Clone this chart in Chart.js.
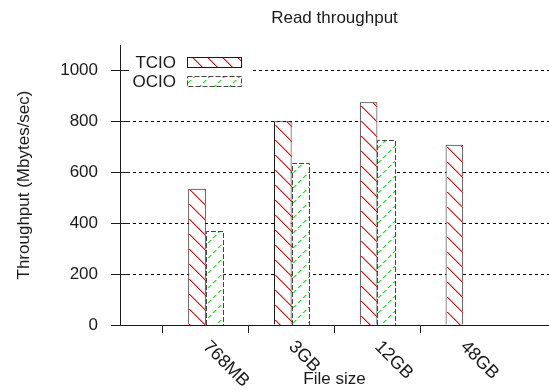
<!DOCTYPE html>
<html>
<head>
<meta charset="utf-8">
<script src="https://cdn.jsdelivr.net/npm/chart.js@4/dist/chart.umd.min.js"></script>
<style>
  body { margin: 0; background: #fff; }
  #wrap { width: 549px; height: 392px; }
</style>
</head>
<body>
<div id="wrap"><canvas id="myChart" width="549" height="392"></canvas></div>
<script>
const categories = ['768MB', '3GB', '12GB', '48GB'];
const tcioValues = [535, 800, 875, 708];
const ocioValues = [370, 636, 725, null];
const seriesNames = ['TCIO', 'OCIO'];
const yTickStep = 200;
const yMax = 1100;
const chartTitle = 'Read throughput';
const xTitle = 'File size';
const yTitle = 'Throughput (Mbytes/sec)';

const FONT = 'Liberation Sans, Arial, Helvetica, sans-serif';
const INK = '#1a1a1a';

// blank slots at both ends so the category ticks land where gnuplot put them
const labels = [''].concat(categories, ['']);
const pad = arr => [null].concat(arr, [null]);

// hatch styles per series: line colour, soft edge colour, direction, dashed?, outline
const styles = [
  { color: '#ff0000', soft: '#ff9090', dir: 'back', dashed: false, edge: INK, edgeDash: [] },
  { color: '#00ee00', soft: '#90f590', dir: 'fwd', dashed: true, edge: '#444', edgeDash: [5, 2] }
];

// aliased pixel hatching, like the gnuplot png terminal
function drawHatch(c, l, t, r, b, st) {
  const step = 15;
  c.save();
  for (let y = t; y < b; y++) {
    if (st.dashed && (y % 5) >= 3) continue;
    const base = st.dir === 'back' ? ((y % step) + step) % step : ((step - (y % step)) % step);
    for (let x = l + ((base - l) % step + step) % step; x < r; x += step) {
      c.fillStyle = st.color;
      c.fillRect(x, y, 1, 1);
      if (x + 1 < r) {
        c.fillStyle = st.soft;
        c.fillRect(x + 1, y, 1, 1);
      }
    }
  }
  c.restore();
}

const gnuplotBits = {
  id: 'gnuplotBits',
  afterDatasetsDraw(chart) {
    const c = chart.ctx;
    [0, 1].forEach(ds => {
      const st = styles[ds];
      const vals = ds === 0 ? tcioValues : ocioValues;
      chart.getDatasetMeta(ds).data.forEach((bar, i) => {
        if (vals[i - 1] == null) return;
        const l = Math.round(bar.x - bar.width / 2);
        const r = Math.round(bar.x + bar.width / 2);
        const t = Math.round(bar.y);
        const b = Math.round(bar.base);
        drawHatch(c, l + 1, t + 1, r, b, st);
        if (ds === 1) {
          c.save();
          c.strokeStyle = st.edge;
          c.lineWidth = 1;
          c.setLineDash(st.edgeDash);
          c.beginPath();
          c.moveTo(l + 0.5, b); c.lineTo(l + 0.5, t + 0.5);
          c.lineTo(r + 0.5, t + 0.5); c.lineTo(r + 0.5, b);
          c.stroke();
          c.restore();
        }
      });
    });
  },
  afterDraw(chart) {
    const c = chart.ctx;
    const area = chart.chartArea;
    const xs = chart.scales.x;
    const ys = chart.scales.y;
    const midX = (area.left + area.right) / 2;

    c.save();
    c.fillStyle = INK;
    c.font = '17px ' + FONT;
    c.textAlign = 'center';
    c.textBaseline = 'middle';
    c.fillText(chartTitle, midX, 18);
    c.fillText(xTitle, midX, 379);

    // rotated category labels
    c.font = '18px ' + FONT;
    c.textAlign = 'left';
    categories.forEach((name, i) => {
      const x = xs.getPixelForTick(i + 1);
      c.save();
      c.translate(x, 344);
      c.rotate(Math.PI / 4);
      c.fillText(name, 0, 0);
      c.restore();
    });
    c.font = '17px ' + FONT;

    // legend
    c.fillStyle = '#fff';
    c.fillRect(area.left + 2, 52, 130, 40);
    [63, 82].forEach((y, i) => {
      const st = styles[i];
      c.fillStyle = INK;
      c.textAlign = 'right';
      c.fillText(seriesNames[i], 176, y);
      drawHatch(c, 188, y - 5, 241, y + 5, st);
      c.strokeStyle = st.edge;
      c.lineWidth = 1;
      c.setLineDash(st.edgeDash);
      c.strokeRect(187.5, y - 5.5, 54, 10);
      c.setLineDash([]);
    });

    // gnuplot ticks go both in and out of the y axis
    c.strokeStyle = INK;
    c.lineWidth = 1;
    c.beginPath();
    for (let v = 0; v <= 1000; v += yTickStep) {
      const y = Math.round(ys.getPixelForValue(v)) + 0.5;
      c.moveTo(area.left - 8, y);
      c.lineTo(area.left + 9, y);
    }
    c.stroke();
    c.restore();
  }
};

const ctx = document.getElementById('myChart').getContext('2d');

new Chart(ctx, {
  type: 'bar',
  data: {
    labels: labels,
    datasets: [{
      label: seriesNames[0],
      data: pad(tcioValues),
      backgroundColor: '#fff',
      borderColor: INK,
      borderWidth: 1
    }, {
      label: seriesNames[1],
      data: pad(ocioValues),
      backgroundColor: '#fff',
      borderWidth: 0
    }]
  },
  options: {
    responsive: false,
    animation: false,
    devicePixelRatio: 1,
    categoryPercentage: 0.41,
    barPercentage: 1,
    layout: { padding: { top: 45, right: 0, bottom: 59, left: 0 } },
    plugins: {
      legend: { display: false },
      title: { display: false },
      tooltip: { enabled: false }
    },
    scales: {
      x: {
        offset: false,
        grid: {
          drawOnChartArea: false,
          drawTicks: true,
          tickLength: 8,
          tickColor: ctx => (ctx.index === 0 || ctx.index === labels.length - 1) ? 'rgba(0,0,0,0)' : INK
        },
        border: { display: true, color: INK, width: 1 },
        ticks: { display: false }
      },
      y: {
        min: 0,
        max: yMax,
        afterFit: scale => { scale.width = 120; },
        ticks: {
          stepSize: yTickStep,
          includeBounds: false,
          padding: 13,
          color: INK,
          font: { family: FONT, size: 17 },
          callback: v => String(v)
        },
        grid: {
          color: ctx => ctx.tick && ctx.tick.value === 0 ? 'rgba(0,0,0,0)' : '#000',
          lineWidth: 1,
          tickLength: 9,
          tickColor: INK,
          tickBorderDash: []
        },
        border: { display: true, color: INK, width: 1, dash: [3, 3] },
        title: {
          display: true,
          text: yTitle,
          color: INK,
          font: { family: FONT, size: 17 },
          padding: { top: 14, bottom: 0 }
        }
      }
    }
  },
  plugins: [gnuplotBits]
});
</script>
</body>
</html>
